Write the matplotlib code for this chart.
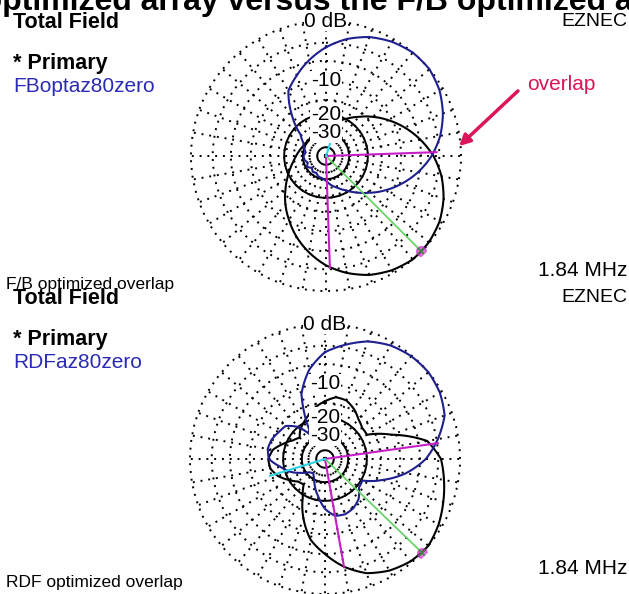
import numpy as np
import matplotlib.pyplot as plt

plt.rcParams['font.family'] = ['Liberation Sans', 'DejaVu Sans']

W, H = 629, 594

# compass azimuth of every read-off point (deg)
az = list(range(0, 360, 10))

# F/B optimized plot: primary trace (blue) and overlay (black), dB
fb_primary = [-3.7, -2.2, -1.1, -0.4, 0.0, 0.0, -0.5, -1.4, -2.6, -4.2, -6.3, -8.8,
              -11.6, -14.7, -17.8, -20.9, -23.6, -25.9, -29.0, -30.5, -31.0, -33.0, -32.0, -34.0,
              -31.0, -33.0, -31.0, -30.5, -32.0, -30.0, -28.0, -24.0, -16.0, -10.0, -7.8, -5.6]
fb_overlay = [-26.1, -24.3, -22.0, -19.4, -16.6, -13.6, -10.8, -8.2, -5.9, -3.9, -2.4, -1.3,
              -0.5, -0.1, 0.0, -0.4, -1.1, -2.2, -3.6, -5.5, -7.7, -10.3, -13.0, -16.0,
              -18.9, -21.5, -23.9, -25.7, -27.2, -28.4, -29.2, -29.6, -29.7, -29.3, -28.6, -27.5]

# RDF optimized plot
rdf_primary = [-4.0, -2.6, -1.3, -0.5, -0.1, 0.0, -0.3, -1.0, -2.8, -5.0, -8.5, -13.5,
               -19.5, -19.0, -16.2, -14.8, -14.2, -14.5, -17.0, -21.5, -26.0, -31.0, -34.0, -32.0,
               -27.0, -22.0, -18.7, -15.0, -14.4, -14.8, -15.8, -16.5, -20.0, -28.0, -11.5, -6.8]
rdf_overlay = [-14.5, -13.1, -13.2, -14.5, -16.3, -17.5, -17.5, -11.0, -4.5, -2.6, -1.9, -1.2,
               -0.5, 0.0, -0.2, -0.8, -1.8, -3.6, -6.0, -8.5, -13.0, -19.0, -24.0, -23.0,
               -20.0, -17.0, -15.2, -14.8, -16.0, -19.0, -22.0, -24.0, -21.5, -19.8, -18.0, -16.0]

# marker lines from the centre: (azimuth, dB)
fb_half_power = [(88, -3.4), (178, -3.2)]
fb_max = (135, 0.0)
fb_cursor = (18, -31.6)
rdf_half_power = [(82, -2.9), (170, -3.6)]
rdf_max = (134, 0.0)
rdf_cursor = (253, -14.6)

ring_db = [0, -3, -6, -10, -15, -20, -30]
ring_labels = [(0, '0 dB'), (-10, '-10'), (-20, '-20'), (-30, '-30')]

NAVY = '#1f1f8f'
MAGENTA = '#c81ec8'
GREEN = '#5fd35f'
CYAN = '#2fd5e6'
CRIMSON = '#dc145a'
RMIN = -100


def arrl(db):
    # ARRL log scale: radius shrinks by 0.89 every 2 dB
    return 0.89 ** (-np.asarray(db, dtype=float) / 2.0)


def arrl_inv(r):
    return -2.0 * np.log(np.clip(r, 1e-12, None)) / np.log(0.89)


def trace(ax, a, v, **kw):
    # close the loop at 360 deg so the last segment does not sweep back round
    t = np.deg2rad(list(a) + [a[0] + 360])
    ln, = ax.plot(t, list(v) + [v[0]], **kw)
    # let the polar transform curve each segment instead of drawing chords
    ln.get_path()._interpolation_steps = 12
    return ln


def polar_panel(cx, cy, primary, overlay, half_power, vmax, cursor):
    rad = 139.0
    ax = fig.add_axes([(cx - rad) / W, 1 - (cy + rad) / H, 2 * rad / W, 2 * rad / H],
                      projection='polar')
    ax.set_theta_zero_location('N')
    ax.set_theta_direction(-1)
    ax.set_rscale('function', functions=(arrl, arrl_inv))
    ax.set_rlim(RMIN, 0.5)
    ax.spines['polar'].set_visible(False)
    ax.set_yticks(ring_db)
    ax.set_yticklabels([])
    ax.set_xticks(np.deg2rad(np.arange(0, 360, 10)))
    ax.set_xticklabels([])
    ax.grid(True, color='black', linestyle=(0, (1, 3)), linewidth=1.4)

    ring = np.linspace(0, 2 * np.pi, 361)
    for lev in (-20, -30):
        ax.plot(ring, np.full(ring.size, lev), color='black', lw=1.4)

    trace(ax, az, overlay, color='black', lw=1.5)
    trace(ax, az, primary, color=NAVY, lw=1.5)

    for a, d in half_power:
        ax.plot([np.deg2rad(a)] * 2, [RMIN, d], color=MAGENTA, lw=1.5)
    ax.plot([np.deg2rad(vmax[0])] * 2, [RMIN, vmax[1]], color=GREEN, lw=1.2)
    ax.plot(np.deg2rad(vmax[0]), vmax[1], marker='o', ms=7, mfc=MAGENTA, mec=MAGENTA, alpha=0.6)
    ax.plot(np.deg2rad(vmax[0]), vmax[1], marker='x', ms=5, mec='#3a8a3a', mew=1.2)
    ax.plot([np.deg2rad(cursor[0])] * 2, [RMIN, cursor[1]], color=CYAN, lw=1.5)

    for lev, txt in ring_labels:
        ax.text(0, lev, txt, ha='center', va='center', fontsize=15,
                bbox=dict(facecolor='white', edgecolor='none', pad=0.5), zorder=5)
    return ax


def px_text(x, y, s, **kw):
    fig.text(x / W, 1 - y / H, s, va='center', **kw)


fig = plt.figure(figsize=(W / 100, H / 100), dpi=100)

fig.text(-92 / W, 1 - 10 / H, 'RDF optimized array versus the F/B optimized array',
         fontsize=23, fontweight='bold', va='baseline', ha='left')

polar_panel(326, 156, fb_primary, fb_overlay, fb_half_power, fb_max, fb_cursor)
polar_panel(325, 459, rdf_primary, rdf_overlay, rdf_half_power, rdf_max, rdf_cursor)

for y0, name, caption, fy in [(0, 'FBoptaz80zero', 'F/B optimized overlap', 284),
                              (276, 'RDFaz80zero', 'RDF optimized overlap', 583)]:
    px_text(13, 22 + y0, 'Total Field', fontsize=15.5, fontweight='bold')
    px_text(627, 22 + y0, 'EZNEC', fontsize=14, ha='right')
    px_text(13, 63 + y0, '* Primary', fontsize=15.5, fontweight='bold')
    px_text(13, 86 + y0, name, fontsize=15, color='#2a2ab4')
    px_text(6, fy, caption, fontsize=12.5)
    px_text(627, fy - 14, '1.84 MHz', fontsize=15, ha='right')

px_text(527, 85, 'overlap', fontsize=15, color=CRIMSON)
fig.add_artist(plt.Annotation('', xy=(457 / W, 1 - 148 / H), xytext=(520 / W, 1 - 89 / H),
                              xycoords='figure fraction', textcoords='figure fraction',
                              arrowprops=dict(arrowstyle='-|>', color=CRIMSON, lw=2.5,
                                              mutation_scale=16)))

fig.savefig('out.png', dpi=100)
